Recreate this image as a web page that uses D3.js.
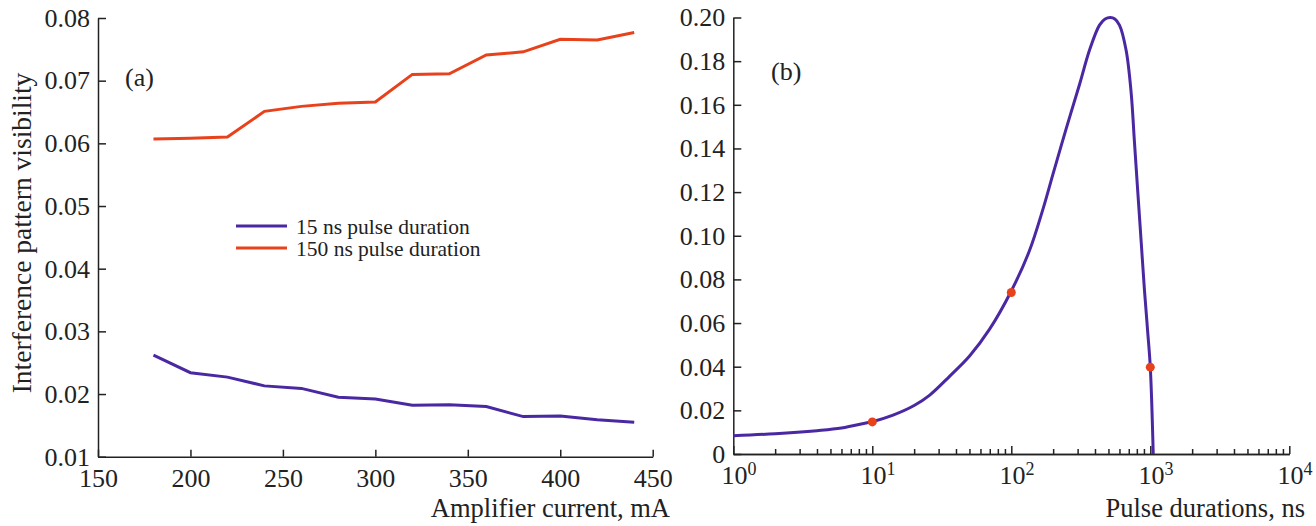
<!DOCTYPE html>
<html>
<head>
<meta charset="utf-8">
<script src="https://cdn.jsdelivr.net/npm/d3@7"></script>
<style>
body{margin:0;background:#fff;}
svg{display:block;}
.axis path,.axis line{stroke:#222;stroke-width:1.5;}
</style>
</head>
<body>
<div id="chart"></div>
<script>
// panel (a): visibility vs amplifier current
const current=[180,200,220,240,260,280,300,320,340,360,380,400,420,440];
const vis15=[0.0262,0.0234,0.0227,0.0213,0.0209,0.0195,0.0192,0.0182,0.0183,0.0180,0.0164,0.0165,0.0159,0.0155];
const vis150=[0.0607,0.0608,0.0610,0.0651,0.0659,0.0664,0.0666,0.0710,0.0711,0.0741,0.0746,0.0766,0.0765,0.0777];
const seriesNames=["15 ns pulse duration","150 ns pulse duration"];
const xTicksA=[150,200,250,300,350,400,450];
const yTicksA=[0.01,0.02,0.03,0.04,0.05,0.06,0.07,0.08];

// panel (b): visibility vs pulse duration (curve)
const pulse=[1,2,4,6,9,10,14.1,20,25.9,36.1,50.1,69.8,100,135,169,199,248,310,366,431,473,516,556,600,670,728,769,813,859,908,955,1000,1050];
const visCurve=[0.0084,0.0093,0.0107,0.0119,0.0142,0.0148,0.0178,0.0222,0.0270,0.0357,0.0449,0.0572,0.0747,0.0931,0.1122,0.1280,0.149,0.1694,0.1852,0.1965,0.1993,0.2000,0.1993,0.1965,0.185,0.1656,0.143,0.120,0.0976,0.075,0.057,0.0398,0.0];
const measPulse=[10,100,1000];
const measVis=[0.0147,0.0740,0.0398];
const yTicksB=[0,0.02,0.04,0.06,0.08,0.10,0.12,0.14,0.16,0.18,0.20];

const purple="#4a28a2";
const red="#e8421c";
const serif="'Liberation Serif','Times New Roman',serif";

const width=1316,height=526;
const svg=d3.select("#chart").append("svg")
  .attr("width",width)
  .attr("height",height)
  .attr("font-family",serif);

// d3 axis puts sans-serif on its group, put the serif back
function styleAxis(g){
  g.attr("font-family",serif).attr("font-size",26);
  g.selectAll("text").attr("fill","#222");
}

//---------- panel a ----------
const xA=d3.scaleLinear().domain([150,450]).range([98,652.7]);
const yA=d3.scaleLinear().domain([0.01,0.08]).range([456.7,18]);

svg.append("g")
  .attr("class","axis")
  .attr("transform","translate(0,"+yA(0.01)+")")
  .call(d3.axisBottom(xA).tickValues(xTicksA).tickSizeInner(-7).tickSizeOuter(0).tickPadding(12).tickFormat(d3.format("d")))
  .call(styleAxis);

svg.append("g")
  .attr("class","axis")
  .attr("transform","translate("+xA(150)+",0)")
  .call(d3.axisLeft(yA).tickValues(yTicksA).tickSizeInner(-8).tickSizeOuter(0).tickPadding(8).tickFormat(d3.format(".2f")))
  .call(styleAxis);

const lineA=d3.line()
  .x((d,i)=>xA(current[i]))
  .y(d=>yA(d));

svg.append("path")
  .datum(vis150)
  .attr("d",lineA)
  .attr("fill","none")
  .attr("stroke",red)
  .attr("stroke-width",3);

svg.append("path")
  .datum(vis15)
  .attr("d",lineA)
  .attr("fill","none")
  .attr("stroke",purple)
  .attr("stroke-width",3);

// legend
const legend=svg.append("g").attr("transform","translate(236,226)");
[purple,red].forEach((c,i)=>{
  legend.append("line")
    .attr("x1",0).attr("x2",51)
    .attr("y1",i*22).attr("y2",i*22)
    .attr("stroke",c).attr("stroke-width",3);
  legend.append("text")
    .attr("x",60).attr("y",i*22+7.5)
    .attr("font-size",21.5)
    .attr("fill","#222")
    .text(seriesNames[i]);
});

svg.append("text")
  .attr("x",125).attr("y",86)
  .attr("font-size",26)
  .attr("fill","#222")
  .text("(a)");

svg.append("text")
  .attr("transform","translate(31,233) rotate(-90)")
  .attr("text-anchor","middle")
  .attr("font-size",27.5)
  .attr("fill","#222")
  .text("Interference pattern visibility");

svg.append("text")
  .attr("x",670).attr("y",517)
  .attr("text-anchor","end")
  .attr("font-size",26.5)
  .attr("fill","#222")
  .text("Amplifier current, mA");

//---------- panel b ----------
const xB=d3.scaleLog().domain([1,1e4]).range([733.3,1289.3]);
const yB=d3.scaleLinear().domain([0,0.2]).range([454,17.5]);

const majors=[1,10,100,1000,10000];
let minors=[];
for(let k=0;k<4;k++){
  for(let m=2;m<10;m++){
    minors.push(m*Math.pow(10,k));
  }
}

svg.append("g")
  .attr("class","axis")
  .attr("transform","translate(0,"+yB(0)+")")
  .call(d3.axisBottom(xB).tickValues(minors).tickSizeInner(-5).tickSizeOuter(0).tickFormat(""));

const xAxisB=svg.append("g")
  .attr("class","axis")
  .attr("transform","translate(0,"+yB(0)+")")
  .call(d3.axisBottom(xB).tickValues(majors).tickSizeInner(-8).tickSizeOuter(0).tickPadding(11.5))
  .call(styleAxis);

// rewrite the labels as 10 with superscript power
xAxisB.selectAll(".tick text")
  .text("")
  .each(function(d){
    const t=d3.select(this);
    t.append("tspan").text("10");
    t.append("tspan")
      .attr("dy","-0.5em")
      .attr("font-size",18)
      .text(Math.round(Math.log10(d)));
  });
xAxisB.selectAll(".tick text").attr("dx","0.2em");

svg.append("g")
  .attr("class","axis")
  .attr("transform","translate("+xB(1)+",0)")
  .call(d3.axisLeft(yB).tickValues(yTicksB).tickSizeInner(-8).tickSizeOuter(0).tickPadding(8)
    .tickFormat(d=>d===0?"0":d3.format(".2f")(d)))
  .call(styleAxis);

svg.append("path")
  .datum(visCurve)
  .attr("d",d3.line()
    .x((d,i)=>xB(pulse[i]))
    .y(d=>yB(d))
    .curve(d3.curveCatmullRom.alpha(0.5)))
  .attr("fill","none")
  .attr("stroke",purple)
  .attr("stroke-width",3);

svg.append("g")
  .selectAll("circle")
  .data(measVis)
  .enter()
  .append("circle")
  .attr("cx",(d,i)=>xB(measPulse[i]))
  .attr("cy",d=>yB(d))
  .attr("r",4.5)
  .attr("fill",red);

svg.append("text")
  .attr("x",771).attr("y",80)
  .attr("font-size",26)
  .attr("fill","#222")
  .text("(b)");

svg.append("text")
  .attr("x",1305).attr("y",517)
  .attr("text-anchor","end")
  .attr("font-size",26.5)
  .attr("fill","#222")
  .text("Pulse durations, ns");
</script>
</body>
</html>
